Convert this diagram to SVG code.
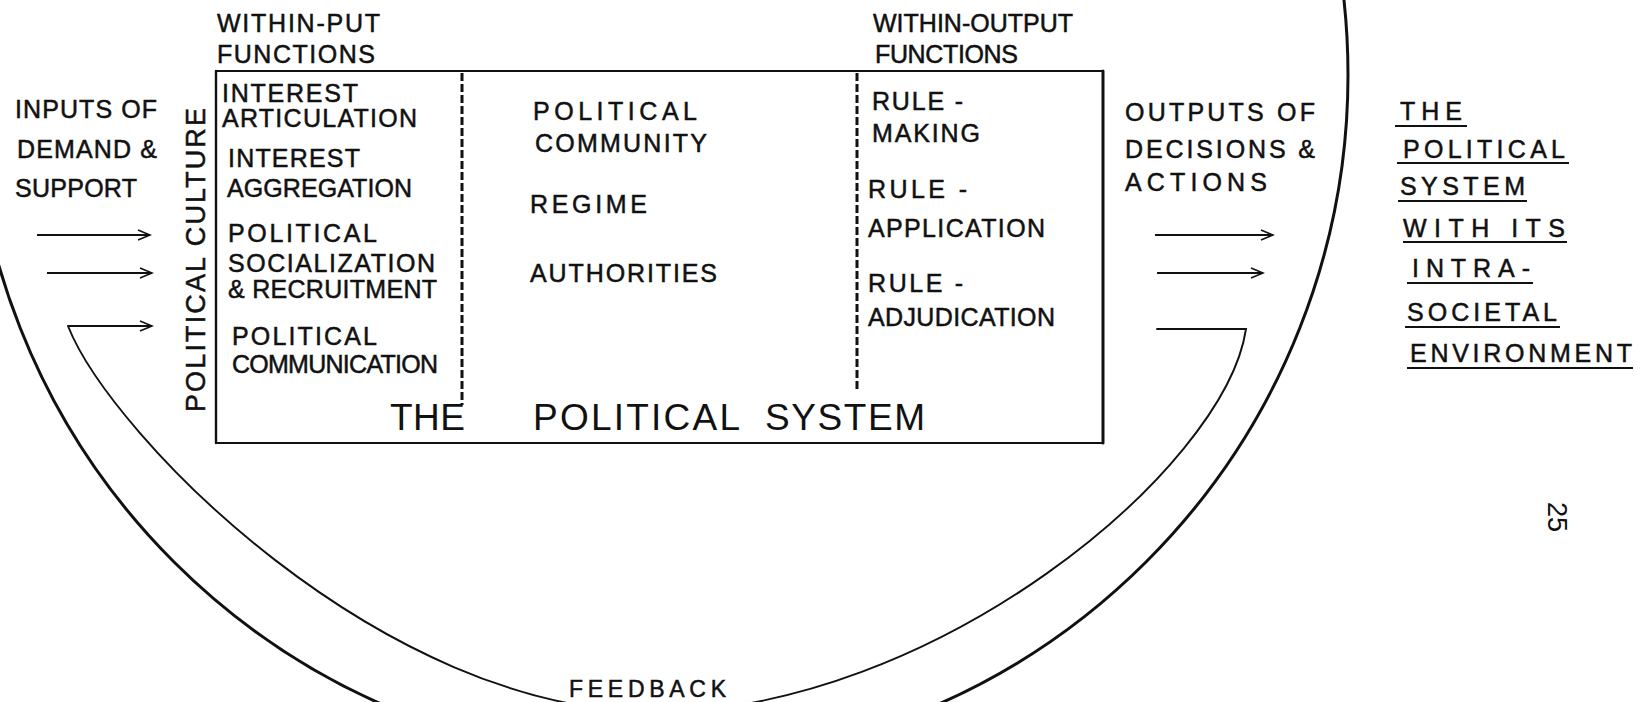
<svg xmlns="http://www.w3.org/2000/svg" width="1646" height="702" viewBox="0 0 1646 702">
  <style>
    text { font-family: "Liberation Sans", Arial, sans-serif; font-size: 25px; fill: #111; stroke: #111; stroke-width: 0.5; }
    .title { font-size: 37px; stroke-width: 0; }
    .vert { font-size: 27px; }
    .small { font-size: 23px; }
    .pg { font-size: 27px; stroke-width: 0; }
    .edge { fill: none; stroke: #111; stroke-linecap: round; }
    .arrow { fill: none; stroke: #111; stroke-width: 1.8; }
    .div { stroke: #111; stroke-width: 3; stroke-dasharray: 8 3; }
    .ul { stroke: #111; stroke-width: 2; }
  </style>
  <defs>
    <marker id="chev" markerWidth="15" markerHeight="13" refX="13" refY="6" orient="auto" markerUnits="userSpaceOnUse">
      <path d="M1,1 L13,6 L1,11" fill="none" stroke="#111" stroke-width="1.6"/>
    </marker>
  </defs>

  <rect width="1646" height="702" fill="#fff"/>

  <!-- feedback loop, input and output arrows -->
  <g id="connectors">
    <circle class="edge" cx="660" cy="75" r="688" stroke-width="3"/>
    <path class="edge" stroke-width="1.9" d="M68,326 C111,435 381,712 655,712 C933,712 1225,470 1246,329 L1157,329"/>
    <line class="arrow" x1="37" y1="235" x2="150" y2="235" marker-end="url(#chev)"/>
    <line class="arrow" x1="47" y1="273" x2="152" y2="273" marker-end="url(#chev)"/>
    <line class="arrow" x1="68" y1="326" x2="152" y2="326" marker-end="url(#chev)"/>
    <line class="arrow" x1="1155" y1="235" x2="1273" y2="235" marker-end="url(#chev)"/>
    <line class="arrow" x1="1157" y1="273" x2="1263" y2="273" marker-end="url(#chev)"/>
  </g>

  <g id="inputs">
    <text x="15" y="118" textLength="142" lengthAdjust="spacing">INPUTS OF</text>
    <text x="17" y="158" textLength="140" lengthAdjust="spacing">DEMAND &amp;</text>
    <text x="15" y="197" textLength="122" lengthAdjust="spacing">SUPPORT</text>
  </g>

  <g id="political-culture">
    <text class="vert" transform="translate(205,412) rotate(-90)" x="0" y="0" textLength="304" lengthAdjust="spacing">POLITICAL CULTURE</text>
  </g>

  <g id="political-system">
    <line class="edge" x1="216" y1="71" x2="1103" y2="71" stroke-width="2"/>
    <line class="edge" x1="216" y1="443" x2="1103" y2="443" stroke-width="2.2"/>
    <line class="edge" x1="216" y1="71" x2="216" y2="443" stroke-width="2.4"/>
    <line class="edge" x1="1103" y1="71" x2="1103" y2="443" stroke-width="3"/>
    <line class="div" x1="462" y1="73" x2="462" y2="405"/>
    <line class="div" x1="857" y1="73" x2="857" y2="392"/>
    <text class="title" x="390" y="430" textLength="75" lengthAdjust="spacing">THE</text>
    <text class="title" x="533" y="430" textLength="207" lengthAdjust="spacing">POLITICAL</text>
    <text class="title" x="765" y="430" textLength="160" lengthAdjust="spacing">SYSTEM</text>
  </g>

  <g id="within-put-functions">
    <text x="217" y="32" textLength="163" lengthAdjust="spacing">WITHIN-PUT</text>
    <text x="217" y="63" textLength="158" lengthAdjust="spacing">FUNCTIONS</text>
    <text x="222" y="102" textLength="136" lengthAdjust="spacing">INTEREST</text>
    <text x="222" y="127" textLength="195" lengthAdjust="spacing">ARTICULATION</text>
    <text x="228" y="167" textLength="132" lengthAdjust="spacing">INTEREST</text>
    <text x="227" y="197" textLength="185" lengthAdjust="spacing">AGGREGATION</text>
    <text x="228" y="242" textLength="149" lengthAdjust="spacing">POLITICAL</text>
    <text x="228" y="272" textLength="207" lengthAdjust="spacing">SOCIALIZATION</text>
    <text x="228" y="298" textLength="209" lengthAdjust="spacing">&amp; RECRUITMENT</text>
    <text x="232" y="345" textLength="145" lengthAdjust="spacing">POLITICAL</text>
    <text x="232" y="373" textLength="206" lengthAdjust="spacing">COMMUNICATION</text>
  </g>

  <g id="system-objects">
    <text x="533" y="120" textLength="164" lengthAdjust="spacing">POLITICAL</text>
    <text x="535" y="152" textLength="172" lengthAdjust="spacing">COMMUNITY</text>
    <text x="530" y="213" textLength="117" lengthAdjust="spacing">REGIME</text>
    <text x="530" y="282" textLength="187" lengthAdjust="spacing">AUTHORITIES</text>
  </g>

  <g id="within-output-functions">
    <text x="873" y="32" textLength="200" lengthAdjust="spacing">WITHIN-OUTPUT</text>
    <text x="875" y="63" textLength="143" lengthAdjust="spacing">FUNCTIONS</text>
    <text x="872" y="110" textLength="91" lengthAdjust="spacing">RULE -</text>
    <text x="872" y="142" textLength="108" lengthAdjust="spacing">MAKING</text>
    <text x="868" y="198" textLength="99" lengthAdjust="spacing">RULE -</text>
    <text x="868" y="237" textLength="177" lengthAdjust="spacing">APPLICATION</text>
    <text x="868" y="292" textLength="95" lengthAdjust="spacing">RULE -</text>
    <text x="868" y="326" textLength="187" lengthAdjust="spacing">ADJUDICATION</text>
  </g>

  <g id="outputs">
    <text x="1125" y="121" textLength="190" lengthAdjust="spacing">OUTPUTS OF</text>
    <text x="1125" y="158" textLength="190" lengthAdjust="spacing">DECISIONS &amp;</text>
    <text x="1125" y="191" textLength="142" lengthAdjust="spacing">ACTIONS</text>
  </g>

  <g id="feedback">
    <text class="small" x="569" y="697" textLength="157" lengthAdjust="spacing">FEEDBACK</text>
  </g>

  <g id="environment">
    <text x="1400" y="120" textLength="62" lengthAdjust="spacing">THE</text>
    <line class="ul" x1="1395" y1="126" x2="1467" y2="126"/>
    <text x="1403" y="158" textLength="162" lengthAdjust="spacing">POLITICAL</text>
    <line class="ul" x1="1397" y1="163" x2="1569" y2="163"/>
    <text x="1400" y="195" textLength="125" lengthAdjust="spacing">SYSTEM</text>
    <line class="ul" x1="1398" y1="201" x2="1527" y2="201"/>
    <text x="1403" y="237" textLength="162" lengthAdjust="spacing">WITH ITS</text>
    <line class="ul" x1="1403" y1="242" x2="1567" y2="242"/>
    <text x="1412" y="277" textLength="118" lengthAdjust="spacing">INTRA-</text>
    <line class="ul" x1="1407" y1="283" x2="1533" y2="283"/>
    <text x="1407" y="321" textLength="150" lengthAdjust="spacing">SOCIETAL</text>
    <line class="ul" x1="1405" y1="327" x2="1560" y2="327"/>
    <text x="1410" y="362" textLength="222" lengthAdjust="spacing">ENVIRONMENT</text>
    <line class="ul" x1="1407" y1="368" x2="1633" y2="368"/>
  </g>

  <g id="page-number">
    <text class="pg" transform="translate(1548,517) rotate(90)" x="0" y="0" text-anchor="middle">25</text>
  </g>
</svg>
